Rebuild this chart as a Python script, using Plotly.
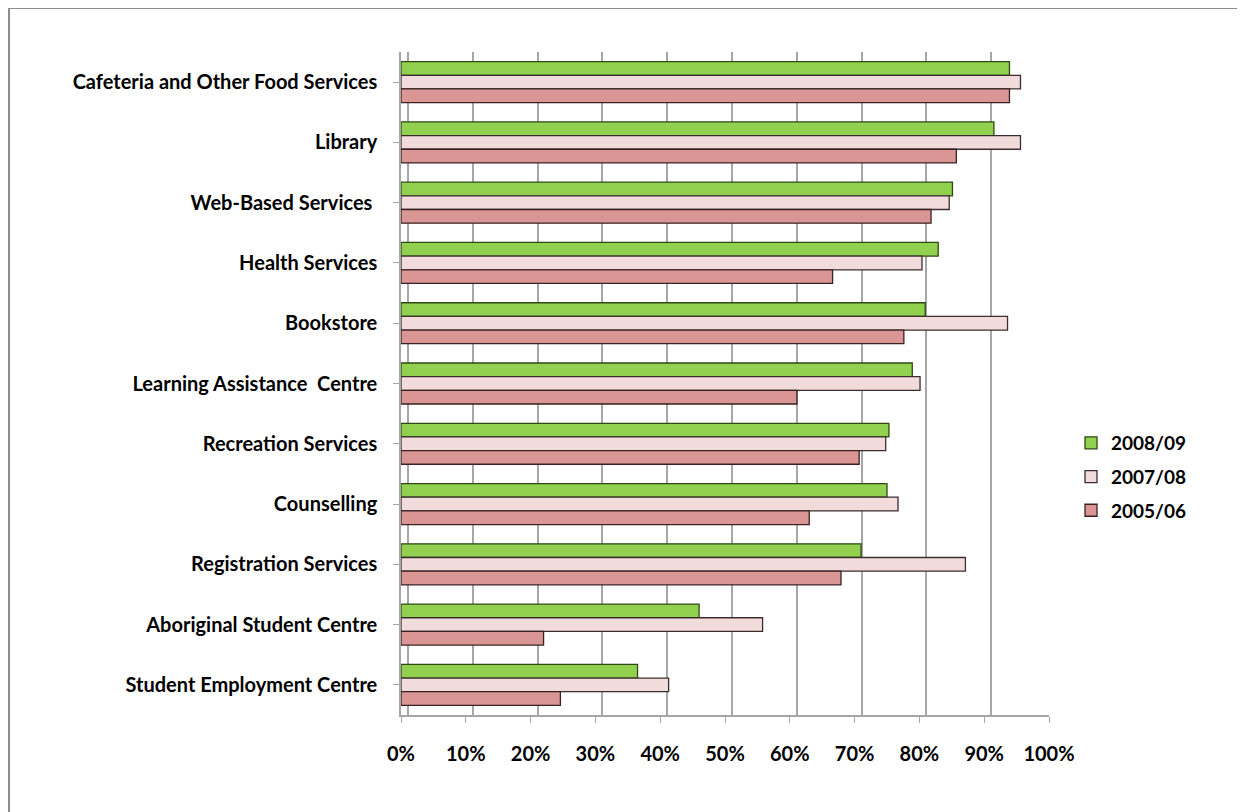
import plotly.graph_objects as go

categories = [
    "Cafeteria and Other Food Services",
    "Library",
    "Web-Based Services ",
    "Health Services",
    "Bookstore",
    "Learning Assistance  Centre",
    "Recreation Services",
    "Counselling",
    "Registration Services",
    "Aboriginal Student Centre",
    "Student Employment Centre",
]
series_names = ["2008/09", "2007/08", "2005/06"]
v_2008_09 = [93.9, 91.5, 85.1, 82.9, 80.9, 78.9, 75.3, 75.0, 71.0, 46.0, 36.5]
v_2007_08 = [95.6, 95.6, 84.6, 80.4, 93.6, 80.1, 74.8, 76.7, 87.1, 55.8, 41.3]
v_2005_06 = [93.9, 85.7, 81.8, 66.6, 77.6, 61.1, 70.7, 63.0, 67.9, 22.0, 24.6]
tick_vals = [0, 10, 20, 30, 40, 50, 60, 70, 80, 90, 100]
tick_text = ["0%", "10%", "20%", "30%", "40%", "50%", "60%", "70%", "80%", "90%", "100%"]

colors = ["#92D050", "#F2DCDB", "#DA9694"]
outline = ["#2E4A12", "#3A2E2E", "#3A2222"]

OFF = 8  # page body margin offset
W, H = 1245, 812
L = 401 - OFF
T = 52 - OFF
plot_right = 1049 - OFF
plot_bottom = 715 - OFF
R = W - plot_right
B = H - plot_bottom
pw, ph = plot_right - L, plot_bottom - T
px_per_unit = pw / 100.0
shift = 7 / px_per_unit  # back-wall gridline offset

FONT = "Lato, Carlito, sans-serif"
FS = 20

def px_x(p):
    return (p - L) / pw

def px_y(p):
    return (plot_bottom - p) / ph

fig = go.Figure()
for name, vals, c, oc in zip(series_names, [v_2008_09, v_2007_08, v_2005_06], colors, outline):
    fig.add_trace(go.Bar(
        y=categories, x=vals, name=name, orientation="h",
        legendgroup=name,
        marker=dict(color=c, line=dict(color=oc, width=1.3)),
    ))
# empty helper trace to anchor the back-wall grid axis
fig.add_trace(go.Scatter(x=[], y=[], xaxis="x2", yaxis="y", showlegend=False, hoverinfo="skip"))

fig.update_layout(
    width=W, height=H,
    margin=dict(l=L, r=R, t=T, b=B),
    paper_bgcolor="white", plot_bgcolor="white",
    barmode="group", bargap=0.32, bargroupgap=0,
    font=dict(family=FONT, size=FS, color="#000000"),
    showlegend=True,
    legend=dict(
        x=px_x(1063), y=px_y(416), xanchor="left", yanchor="top",
        font=dict(size=19, family=FONT, weight="bold"),
        tracegroupgap=6, itemwidth=30,
        bgcolor="rgba(0,0,0,0)",
    ),
    xaxis=dict(
        range=[0, 100], tickvals=tick_vals, ticktext=tick_text,
        showgrid=False,
        zeroline=False, showline=True, linecolor="#A6A6A6", linewidth=1.5,
        ticks="outside", ticklen=6, tickcolor="#A6A6A6",
        tickfont=dict(size=FS, family=FONT, weight="bold"),
        ticklabelstandoff=14,
    ),
    xaxis2=dict(
        overlaying="x", side="top",
        range=[-shift, 100 - shift], tickvals=tick_vals,
        showgrid=True, gridcolor="#A6A6A6", gridwidth=2,
        showticklabels=False, ticks="", zeroline=False, showline=False,
    ),
    yaxis=dict(
        autorange="reversed", showgrid=False,
        showline=True, linecolor="#A6A6A6", linewidth=1.5,
        ticks="outside", ticklen=6, tickcolor="#A6A6A6",
        tickfont=dict(size=FS, family=FONT, weight="bold"),
        ticklabelstandoff=12,
    ),
    shapes=[dict(
        type="rect", xref="paper", yref="paper",
        x0=px_x(1), x1=px_x(W + 10), y0=px_y(H + 10), y1=px_y(0),
        line=dict(color="#8C8C8C", width=2), fillcolor="rgba(0,0,0,0)", layer="below",
    )],
)

fig.write_html("out.html")
